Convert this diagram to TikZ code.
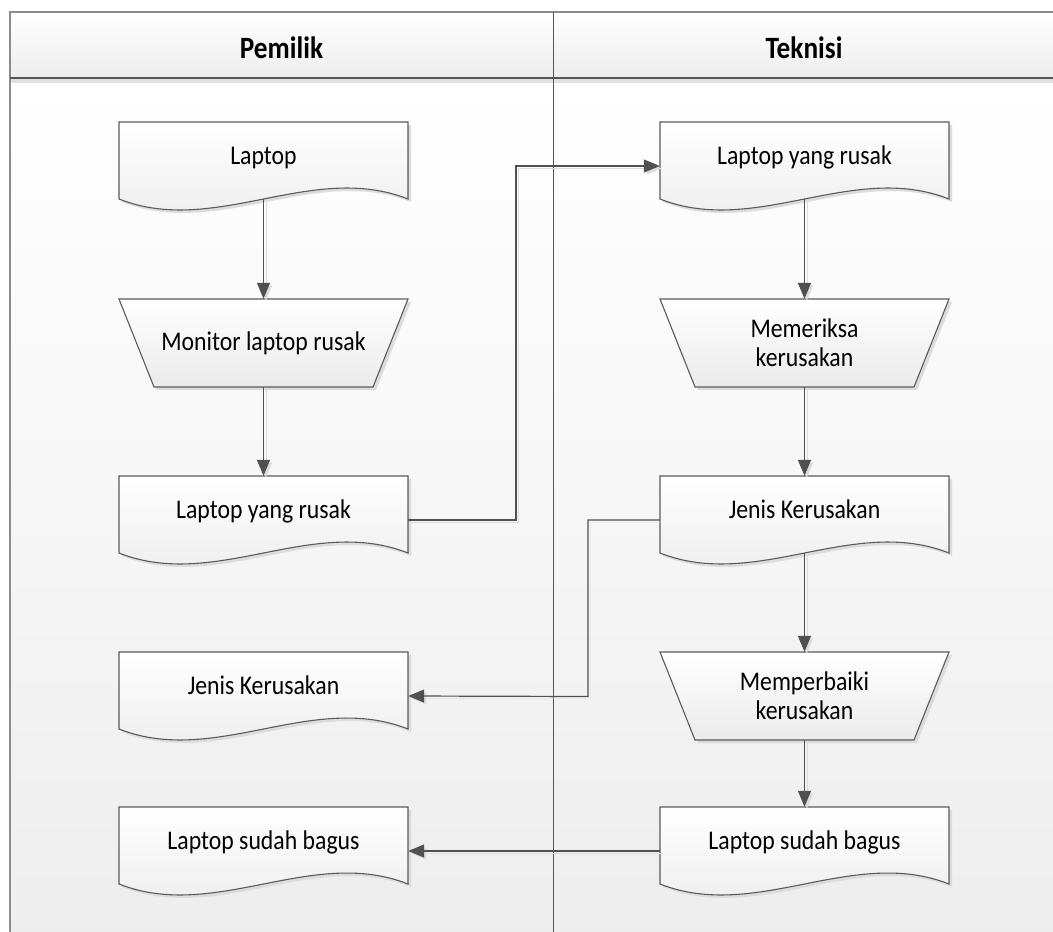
\documentclass[tikz,border=0pt]{standalone}
\usepackage{fontspec}
\setmainfont{Carlito}[FakeStretch=0.88]
\usetikzlibrary{arrows.meta}

\definecolor{lineC}{HTML}{505050}
\definecolor{edgeC}{HTML}{5A5A5A}
\definecolor{shadowC}{HTML}{DCDCDC}
\definecolor{frameC}{HTML}{8C8C8C}
\definecolor{laneEdge}{HTML}{555555}

\tikzset{
  shapefill/.style={top color=white, bottom color=black!8},
  shapeline/.style={draw=edgeC, line width=1.1pt, line join=miter},
  shapeshadow/.style={fill=shadowC},
  docbox/.style={minimum width=289pt, minimum height=77pt, inner sep=0pt,
    text height=14pt, text depth=7pt, font=\fontsize{27}{29}\selectfont},
  manbox/.style={minimum width=289pt, minimum height=88pt, inner sep=0pt,
    align=center, font=\fontsize{27}{29}\selectfont},
  lanehead/.style={anchor=base, font=\fontsize{31}{36}\selectfont\bfseries},
  conn/.style={draw=lineC, line width=1.2pt,
    -{Triangle[length=16pt,width=13pt]},
    preaction={draw=shadowC, transform canvas={shift={(2.5pt,-2.5pt)}}}},
}

% document symbol: #1 name, #2 centre x, #3 top y, #4 text
\newcommand\docshape[4]{%
  \begin{scope}[shift={(3,3)}]
    \fill[shapeshadow] (#2-144.5,#3) -- (#2+144.5,#3) -- (#2+144.5,#3+77)
      .. controls (#2+48.2,#3+39) and (#2-48.2,#3+115) .. (#2-144.5,#3+77) -- cycle;
  \end{scope}
  \shade[shapefill] (#2-144.5,#3) -- (#2+144.5,#3) -- (#2+144.5,#3+77)
      .. controls (#2+48.2,#3+39) and (#2-48.2,#3+115) .. (#2-144.5,#3+77) -- cycle;
  \draw[shapeline] (#2-144.5,#3) -- (#2+144.5,#3) -- (#2+144.5,#3+77)
      .. controls (#2+48.2,#3+39) and (#2-48.2,#3+115) .. (#2-144.5,#3+77) -- cycle;
  \node[docbox] (#1) at (#2,#3+38.5) {#4};
}

% manual operation symbol: #1 name, #2 centre x, #3 top y, #4 text
\newcommand\manshape[4]{%
  \begin{scope}[shift={(3,3)}]
    \fill[shapeshadow] (#2-144.5,#3) -- (#2+144.5,#3) -- (#2+109.5,#3+88)
      -- (#2-109.5,#3+88) -- cycle;
  \end{scope}
  \shade[shapefill] (#2-144.5,#3) -- (#2+144.5,#3) -- (#2+109.5,#3+88)
      -- (#2-109.5,#3+88) -- cycle;
  \draw[shapeline] (#2-144.5,#3) -- (#2+144.5,#3) -- (#2+109.5,#3+88)
      -- (#2-109.5,#3+88) -- cycle;
  \node[manbox] (#1) at (#2,#3+44) {#4};
}

\begin{document}
\begin{tikzpicture}[x=1pt,y=-1pt]
\useasboundingbox (0,0) rectangle (1053,932);

% swimlane body and header
\shade[top color=white, bottom color=black!7] (10,78) rectangle (1062,942);
\shade[top color=white, bottom color=black!7] (10,12) rectangle (1062,78);
\fill[black!12] (10,79) rectangle (1062,83);
\draw[frameC, line width=1.6pt] (10,942) -- (10,12) -- (1062,12);
\draw[laneEdge, line width=1.4pt] (10,78) -- (1062,78);
\draw[laneEdge, line width=1pt] (553,12) -- (553,942);

\node[lanehead] (hpemilik) at (281.5,58) {Pemilik};
\node[lanehead] (hteknisi) at (804,58) {Teknisi};

% Pemilik lane
\docshape{L1}{263.5}{122}{Laptop}
\manshape{L2}{263.5}{299}{Monitor laptop rusak}
\docshape{L3}{263.5}{476}{Laptop yang rusak}
\docshape{L4}{263.5}{652}{Jenis Kerusakan}
\docshape{L5}{263.5}{807}{Laptop sudah bagus}

% Teknisi lane
\docshape{R1}{804.5}{122}{Laptop yang rusak}
\manshape{R2}{804.5}{299}{Memeriksa\\kerusakan}
\docshape{R3}{804.5}{476}{Jenis Kerusakan}
\manshape{R4}{804.5}{652}{Memperbaiki\\kerusakan}
\docshape{R5}{804.5}{807}{Laptop sudah bagus}

% flow
\draw[conn] (L1.south) -- (L2.north);
\draw[conn] (L2.south) -- (L3.north);
\draw[conn] ([yshift=-5.5pt]L3.east) -- (516,520) -- (516,166) -- ([yshift=-5.5pt]R1.west);
\draw[conn] (R1.south) -- (R2.north);
\draw[conn] (R2.south) -- (R3.north);
\draw[conn] ([yshift=-5.5pt]R3.west) -- (588,520) -- (588,696.5) -- ([yshift=-5.5pt]L4.east);
\draw[conn] (R3.south) -- (R4.north);
\draw[conn] (R4.south) -- (R5.north);
\draw[conn] ([yshift=-5.5pt]R5.west) -- ([yshift=-5.5pt]L5.east);
\end{tikzpicture}
\end{document}
